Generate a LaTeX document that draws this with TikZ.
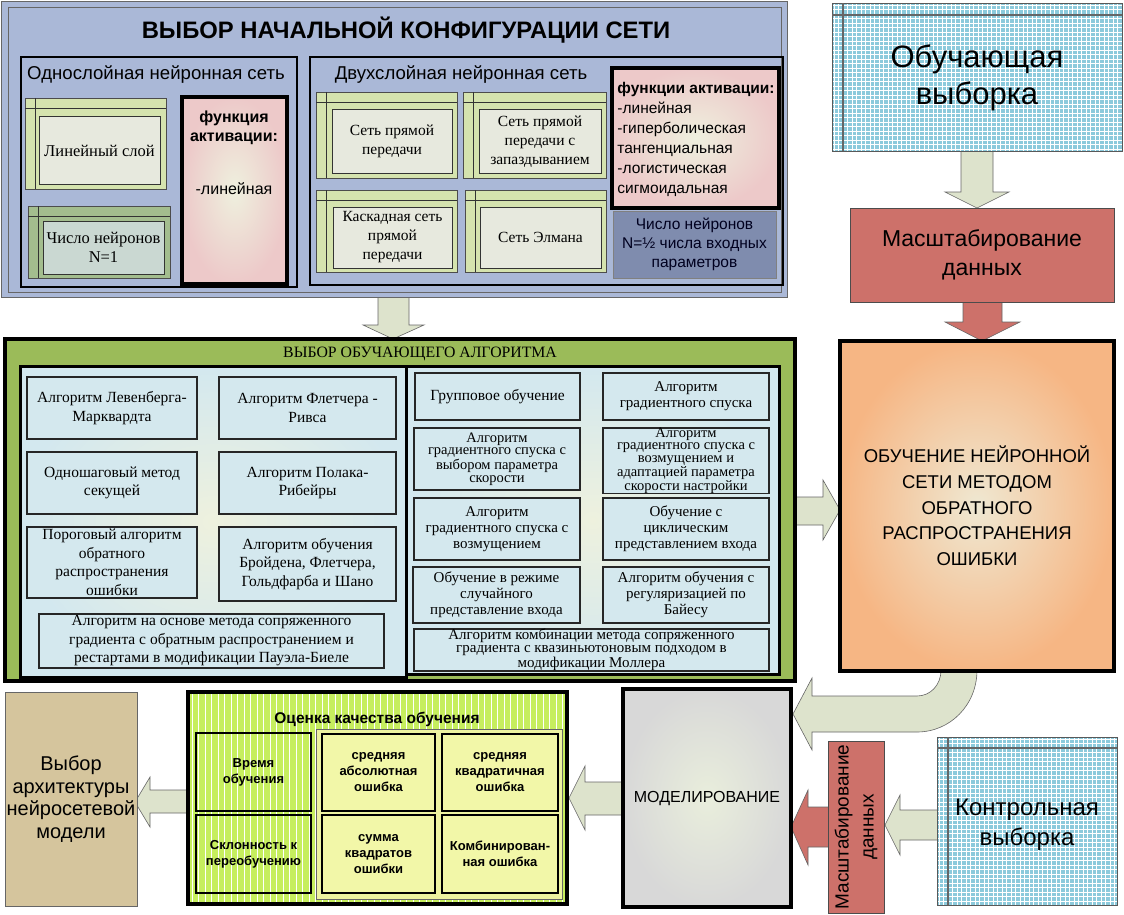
\documentclass[tikz,border=0pt]{standalone}
\usepackage{fontspec}
\setmainfont{Liberation Sans}
\newfontfamily\tnr{Liberation Serif}
\usetikzlibrary{calc}
\newcommand\fsz[2]{\fontsize{#1}{#2}\selectfont}
\definecolor{cfgbg}{HTML}{AAB8D7}
\definecolor{gfr}{HTML}{D5E3AE}
\definecolor{wbx}{HTML}{E7E9DE}
\definecolor{nonefr}{HTML}{A3BD8E}
\definecolor{nonein}{HTML}{CAD8D2}
\definecolor{pinkO}{HTML}{EDC9C9}
\definecolor{pinkI}{HTML}{EEF0DE}
\definecolor{nhalf}{HTML}{7F8CAE}
\definecolor{algG}{HTML}{9BBB59}
\definecolor{algIn}{HTML}{EEF1DE}
\definecolor{algOut}{HTML}{D3E8EF}
\definecolor{algb}{HTML}{D4E8EE}
\definecolor{trO}{HTML}{F6B684}
\definecolor{trI}{HTML}{EFE8D2}
\definecolor{redb}{HTML}{CD716A}
\definecolor{arrf}{HTML}{DDE3CC}
\definecolor{modO}{HTML}{D8D8D8}
\definecolor{modI}{HTML}{E9EEDC}
\definecolor{tanb}{HTML}{D5C59D}
\definecolor{limeb}{HTML}{C6EE5E}
\definecolor{yelA}{HTML}{EDF3A0}
\definecolor{yelB}{HTML}{F2F7A8}
\definecolor{blub}{HTML}{8CCADC}
\tikzset{
  bx/.style n args={4}{anchor=north west, at={(#1,#2)}, minimum width={#3-#1}, minimum height={#4-#2}, inner sep=0pt, outer sep=0pt},
  gframe/.style={fill=gfr, draw=black!70, line width=.6pt},
  hdrline/.style={draw=black!80, line width=.7pt},
  wbox/.style={fill=wbx, draw=black!80, line width=1pt, font=\tnr\fsz{15.5}{19}, align=center},
  alg/.style={fill=algb, draw=black!85, line width=1.4pt, align=center, font=\tnr\fsz{15.5}{18.5}},
  algt/.style={alg, font=\tnr\fsz{14.5}{12.8}},
  algm/.style={alg, font=\tnr\fsz{15}{16}},
  arr/.style={fill=arrf, draw=black!60, line width=.6pt},
  arrred/.style={fill=redb, draw=black!60, line width=.6pt},
  ocbox/.style={draw=black, line width=1.8pt, align=center, font=\bfseries\fsz{13}{16}},
  ocin/.style={ocbox, fill=yelB},
  gridline/.style={white, line width=.55pt},
}
\newcommand\frmlines[1]{\draw[hdrline] ([yshift=-10pt]#1.north west) -- ([yshift=-10pt]#1.north east) ([xshift=10pt]#1.north west) -- ([xshift=10pt]#1.south west);}
\begin{document}
\begin{tikzpicture}[x=1pt,y=-1pt]
\useasboundingbox (0,0) rectangle (1124,915);
\fill[white] (0,0) rectangle (1124,915);

% ---------- arrows (drawn first) ----------
\path[arr] (378,296) -- (409,296) -- (409,325) -- (424,325) -- (393,339) -- (363,325) -- (378,325) -- cycle;
\path[arr] (961,150) -- (993,150) -- (993,192) -- (1009,192) -- (977,208) -- (945,192) -- (961,192) -- cycle;
\path[arrred] (963,301) -- (1002,301) -- (1002,322) -- (1020,322) -- (982,341) -- (945,322) -- (963,322) -- cycle;
\path[arr] (793,497) -- (823,497) -- (823,480) -- (840,510) -- (823,540) -- (823,525) -- (793,525) -- cycle;
\path[arr] (941,670) .. controls (941,685.25) and (930.25,696) .. (917,696) -- (812,696) -- (812,678) -- (793,714) -- (812,750) -- (812,732) -- (917,732) .. controls (950.1,732) and (977,705.1) .. (977,670) -- cycle;
\path[arr] (625,782) -- (585,782) -- (585,766) -- (569,798) -- (585,830) -- (585,815) -- (625,815) -- cycle;
\path[arrred] (830,807) -- (808,807) -- (808,790) -- (791,827) -- (808,865) -- (808,847) -- (830,847) -- cycle;
\path[arr] (938,810) -- (900,810) -- (900,795) -- (885,825) -- (900,855) -- (900,840) -- (938,840) -- cycle;
\path[arr] (189,790) -- (150,790) -- (150,777) -- (135,802) -- (150,827) -- (150,813) -- (189,813) -- cycle;

% ---------- top configuration block ----------
\node[bx={1}{1}{787}{297}, fill=cfgbg, draw=black!60, line width=.8pt] (cfg) {};
\node[bx={8}{7}{781}{292}, draw=black!60, line width=.8pt] (cfgin) {};
\node[font=\bfseries\fsz{23.8}{27}] (cfgtitle) at (406,30) {ВЫБОР НАЧАЛЬНОЙ КОНФИГУРАЦИИ СЕТИ};

\node[bx={21}{57}{297}{287}, draw=black, line width=2.5pt] (one) {};
\node[font=\fsz{18.6}{21}] (onelbl) at (156,75) {Однослойная нейронная сеть};
\node[bx={25}{98}{166}{189}, gframe] (linfr) {};
\frmlines{linfr}
\node[bx={39}{117}{160}{184}, wbox, font=\tnr\fsz{16.5}{19}] (lin) {Линейный слой};
\node[bx={28}{206}{170}{278}, gframe, fill=nonefr] (nonefrm) {};
\frmlines{nonefrm}
\node[bx={43}{221}{164}{274}, wbox, fill=nonein, font=\tnr\fsz{16.5}{19}] (none) {Число нейронов\\N=1};
\node[bx={182}{97}{287}{284}, draw=black, line width=4pt, inner color=pinkI, outer color=pinkO] (act1) {};
\node[font=\bfseries\fsz{16}{19}, align=center] (act1t) at (234,128) {функция\\активации:};
\node[font=\fsz{16}{19}] (act1l) at (234,189) {-линейная};

\node[bx={310}{57}{783}{285}, draw=black, line width=2.5pt] (two) {};
\node[font=\fsz{18.6}{21}] (twolbl) at (461,75) {Двухслойная нейронная сеть};
\node[bx={316}{92}{457}{178}, gframe] (fffr) {};
\frmlines{fffr}
\node[bx={332}{110}{452}{173}, wbox] (ff) {Сеть прямой\\передачи};
\node[bx={463}{92}{606}{178}, gframe] (ffdfr) {};
\frmlines{ffdfr}
\node[bx={479}{110}{601}{173}, wbox] (ffd) {Сеть прямой\\передачи с\\запаздыванием};
\node[bx={316}{190}{457}{272}, gframe] (cscfr) {};
\frmlines{cscfr}
\node[bx={333}{207}{452}{268}, wbox] (csc) {Каскадная сеть\\прямой\\передачи};
\node[bx={465}{190}{606}{272}, gframe] (elmfr) {};
\frmlines{elmfr}
\node[bx={480}{207}{601}{268}, wbox] (elm) {Сеть Элмана};
\node[bx={612}{68}{779}{208}, draw=black, line width=4pt, inner color=pinkI, outer color=pinkO] (act2) {};
\node[font=\fsz{15.5}{20}, align=left] (act2t) at (696,139) {{\bfseries функции активации:}\\-линейная\\-гиперболическая\\тангенциальная\\-логистическая\\сигмоидальная};
\node[bx={613}{211}{776}{278}, fill=nhalf, draw=black!50, line width=.8pt, align=center, font=\fsz{15.5}{19}, text=black!80!blue!60!black] (nhalfbox) {Число нейронов\\N=½ числа входных\\параметров};

% ---------- training data ----------
\node[bx={832}{3}{1122}{151}, fill=blub] (trset) {};
\begin{scope}
\clip (832,3) rectangle (1122,151);
\foreach \x in {834,838.5,...,1122} \draw[gridline] (\x,3) -- (\x,151);
\foreach \y in {5,9.5,...,151} \draw[gridline] (832,\y) -- (1122,\y);
\end{scope}
\draw[black!65, line width=.8pt] (trset.north west) rectangle (trset.south east);
\draw[black!60, line width=1.5pt] ([yshift=-12pt]trset.north west) -- ([yshift=-12pt]trset.north east) ([xshift=11pt]trset.north west) -- ([xshift=11pt]trset.south west);
\node[font=\fsz{31}{37}, align=center] (trsett) at (977,78) {Обучающая\\выборка};

\node[bx={850}{208}{1114}{302}, fill=redb, draw=black!70, line width=.8pt, font=\fsz{23}{29}, align=center] (scale1) {Масштабирование\\данных};

% ---------- algorithm block ----------
\node[bx={5}{339}{795}{681}, fill=algG, draw=black, line width=3.5pt] (algbig) {};
\node[font=\tnr\fsz{15.8}{18}] (algtitle) at (420,354) {ВЫБОР ОБУЧАЮЩЕГО АЛГОРИТМА};
\node[bx={20}{366}{406}{677}, draw=black, line width=3pt, inner color=algIn, outer color=algOut] (algL) {};
\node[bx={406}{366}{779}{674}, draw=black, line width=3pt, inner color=algIn, outer color=algOut] (algR) {};

\node[bx={27}{377}{197}{439}, alg] (l1) {Алгоритм Левенберга-\\Марквардта};
\node[bx={219}{377}{396}{439}, alg] (l2) {Алгоритм Флетчера -\\Ривса};
\node[bx={27}{452}{197}{514}, alg] (l3) {Одношаговый метод\\секущей};
\node[bx={219}{452}{396}{514}, alg] (l4) {Алгоритм Полака-\\Рибейры};
\node[bx={27}{527}{197}{598}, alg] (l5) {Пороговый алгоритм\\обратного\\распространения\\ошибки};
\node[bx={219}{527}{396}{601}, alg] (l6) {Алгоритм обучения\\Бройдена, Флетчера,\\Гольдфарба и Шано};
\node[bx={39}{614}{384}{668}, alg] (l7) {Алгоритм на основе метода сопряженного\\градиента с обратным распространением и\\рестартами в модификации Пауэла-Биеле};

\node[bx={415}{373}{580}{420}, alg] (r1) {Групповое обучение};
\node[bx={603}{373}{769}{420}, algm] (r2) {Алгоритм\\градиентного спуска};
\node[bx={414}{428}{580}{490}, algt] (r3) {Алгоритм\\градиентного спуска с\\выбором параметра\\скорости};
\node[bx={603}{428}{769}{490}, algt, font=\tnr\fsz{14.5}{12.4}] (r4) {Алгоритм\\градиентного спуска с\\возмущением и\\адаптацией параметра\\скорости настройки};
\node[bx={414}{498}{580}{560}, algm] (r5) {Алгоритм\\градиентного спуска с\\возмущением};
\node[bx={603}{498}{769}{560}, algm] (r6) {Обучение с\\циклическим\\представлением входа};
\node[bx={413}{567}{580}{623}, algm] (r7) {Обучение в режиме\\случайного\\представление входа};
\node[bx={603}{567}{769}{623}, algm] (r8) {Алгоритм обучения с\\регуляризацией по\\Байесу};
\node[bx={414}{629}{769}{671}, algt, font=\tnr\fsz{15}{13}] (r9) {Алгоритм комбинации метода сопряженного\\градиента с квазиньютоновым подходом в\\модификации Моллера};

% ---------- training process ----------
\node[bx={840}{341}{1114}{671}, draw=black, line width=4pt, inner color=trI, outer color=trO, align=center, font=\fsz{18.5}{25.7}] (train) {ОБУЧЕНИЕ НЕЙРОННОЙ\\СЕТИ МЕТОДОМ\\ОБРАТНОГО\\РАСПРОСТРАНЕНИЯ\\ОШИБКИ};

% ---------- bottom row ----------
\node[bx={5}{692}{137}{906}, fill=tanb, draw=black!60, line width=.8pt, align=center, font=\fsz{20}{22.5}] (arch) {Выбор\\архитектуры\\нейросетевой\\модели};

\node[bx={188}{692}{567}{904}, fill=limeb] (ocbg) {};
\begin{scope}
\clip (188,692) rectangle (567,904);
\foreach \x in {192,198.5,...,567} \draw[white, line width=.8pt] (\x,692) -- (\x,904);
\end{scope}
\node[bx={188}{692}{567}{904}, draw=black, line width=4pt] (oc) {};
\node[font=\bfseries\fsz{15.5}{18}] (octitle) at (377,719) {Оценка качества обучения};
\node[bx={196}{733}{311}{811}, ocbox] (oc1) {Время\\обучения};
\node[bx={196}{815}{311}{893}, ocbox] (oc2) {Склонность к\\переобучению};
\node[bx={316}{729}{562}{899}, fill=yelA, draw=black!60, line width=.8pt] (ocgrp) {};
\node[bx={322}{734}{435}{811}, ocin] (oc3) {средняя\\абсолютная\\ошибка};
\node[bx={442}{734}{558}{811}, ocin] (oc4) {средняя\\квадратичная\\ошибка};
\node[bx={322}{815}{435}{893}, ocin] (oc5) {сумма\\квадратов\\ошибки};
\node[bx={442}{815}{558}{893}, ocin] (oc6) {Комбинирован-\\ная ошибка};

\node[bx={623}{689}{791}{907}, draw=black, line width=4pt, inner color=modI, outer color=modO, font=\fsz{16}{19}] (model) {МОДЕЛИРОВАНИЕ};

\node[bx={828}{741}{884}{913}, fill=redb, draw=black!70, line width=.8pt] (scale2) {};
\node[rotate=90, align=center, font=\fsz{19}{25}] (scale2t) at (856,827) {Масштабирование\\данных};

\node[bx={937}{737}{1117}{905}, fill=blub] (ctrl) {};
\begin{scope}
\clip (937,737) rectangle (1117,905);
\foreach \x in {939,943.5,...,1117} \draw[gridline] (\x,737) -- (\x,905);
\foreach \y in {739,743.5,...,905} \draw[gridline] (937,\y) -- (1117,\y);
\end{scope}
\draw[black!65, line width=.8pt] (ctrl.north west) rectangle (ctrl.south east);
\draw[black!60, line width=1.5pt] ([yshift=-11pt]ctrl.north west) -- ([yshift=-11pt]ctrl.north east) ([xshift=11pt]ctrl.north west) -- ([xshift=11pt]ctrl.south west);
\node[font=\fsz{24}{30}, align=center] (ctrlt) at (1027,825) {Контрольная\\выборка};
\end{tikzpicture}
\end{document}
